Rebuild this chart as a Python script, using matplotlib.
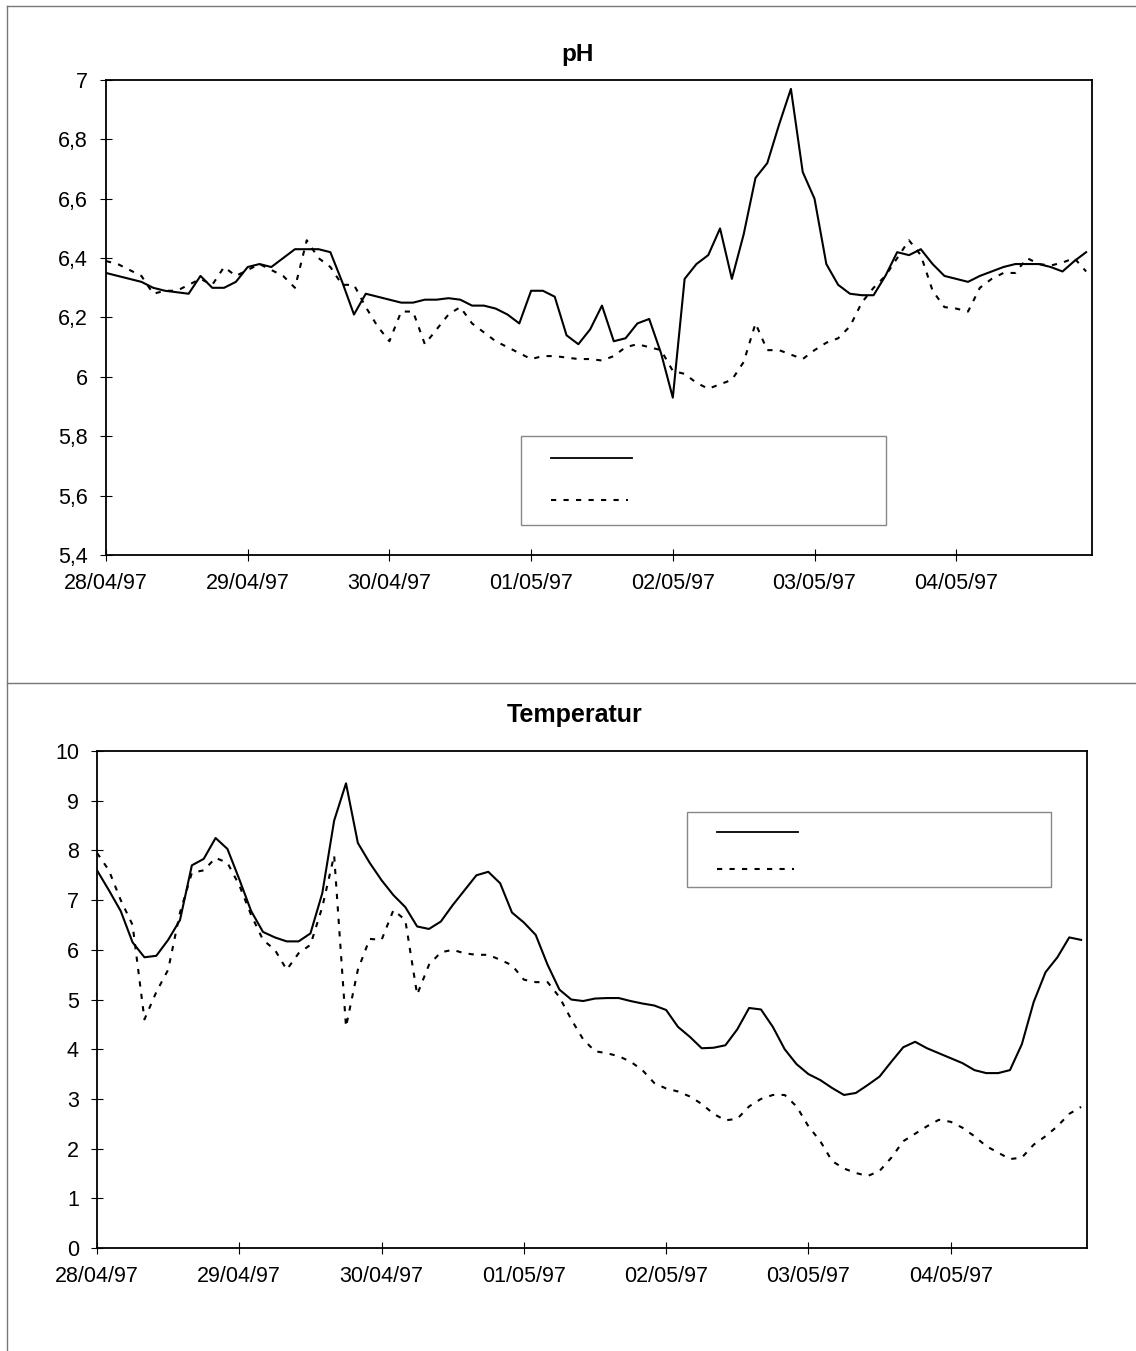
import numpy as np
import matplotlib
matplotlib.use('Agg')
import matplotlib.pyplot as plt
from matplotlib.patches import Rectangle
from matplotlib.lines import Line2D
from matplotlib.ticker import FuncFormatter

plt.rcParams['font.family'] = ['Liberation Sans', 'DejaVu Sans']

# Messzeitpunkte (Stunden ab 28/04/97 00:00), alle 2 Stunden
stunden = np.arange(0, 168, 2)
datum_labels = ['28/04/97', '29/04/97', '30/04/97', '01/05/97', '02/05/97', '03/05/97', '04/05/97']

# pH - durchgezogen
ph_a = [6.35, 6.34, 6.33, 6.32, 6.30, 6.29, 6.285, 6.28, 6.34, 6.30, 6.30, 6.32,
        6.37, 6.38, 6.37, 6.40, 6.43, 6.43, 6.43, 6.42, 6.32, 6.21, 6.28, 6.27,
        6.26, 6.25, 6.25, 6.26, 6.26, 6.265, 6.26, 6.24, 6.24, 6.23, 6.21, 6.18,
        6.29, 6.29, 6.27, 6.14, 6.11, 6.16, 6.24, 6.12, 6.13, 6.18, 6.195, 6.08,
        5.93, 6.33, 6.38, 6.41, 6.50, 6.33, 6.48, 6.67, 6.72, 6.85, 6.97, 6.69,
        6.60, 6.38, 6.31, 6.28, 6.275, 6.275, 6.34, 6.42, 6.41, 6.43, 6.38, 6.34,
        6.33, 6.32, 6.34, 6.355, 6.37, 6.38, 6.38, 6.38, 6.37, 6.355, 6.39, 6.42]
# pH - gestrichelt
ph_b = [6.39, 6.38, 6.36, 6.34, 6.28, 6.29, 6.29, 6.31, 6.33, 6.31, 6.37, 6.34,
        6.36, 6.38, 6.36, 6.34, 6.30, 6.46, 6.40, 6.37, 6.31, 6.31, 6.235, 6.17,
        6.12, 6.22, 6.22, 6.11, 6.16, 6.21, 6.235, 6.18, 6.15, 6.12, 6.10, 6.08,
        6.06, 6.07, 6.07, 6.065, 6.06, 6.06, 6.055, 6.07, 6.10, 6.11, 6.10, 6.09,
        6.02, 6.01, 5.98, 5.96, 5.975, 5.99, 6.05, 6.18, 6.09, 6.09, 6.075, 6.06,
        6.09, 6.115, 6.13, 6.17, 6.25, 6.30, 6.34, 6.40, 6.46, 6.41, 6.29, 6.235,
        6.23, 6.22, 6.30, 6.33, 6.35, 6.35, 6.40, 6.38, 6.375, 6.385, 6.40, 6.355]

# Temperatur - durchgezogen
temp_a = [7.6, 7.2, 6.78, 6.15, 5.85, 5.88, 6.20, 6.60, 7.70, 7.83, 8.25, 8.03,
          7.42, 6.78, 6.36, 6.25, 6.17, 6.17, 6.33, 7.14, 8.6, 9.35, 8.15, 7.75,
          7.40, 7.1, 6.86, 6.47, 6.42, 6.57, 6.90, 7.2, 7.5, 7.57, 7.34, 6.75,
          6.55, 6.30, 5.70, 5.20, 5.0, 4.97, 5.02, 5.03, 5.03, 4.97, 4.92, 4.88,
          4.79, 4.45, 4.25, 4.02, 4.03, 4.08, 4.4, 4.83, 4.8, 4.45, 4.0, 3.70,
          3.50, 3.38, 3.22, 3.08, 3.12, 3.28, 3.45, 3.75, 4.04, 4.15, 4.02, 3.92,
          3.82, 3.72, 3.58, 3.52, 3.52, 3.58, 4.1, 4.95, 5.55, 5.85, 6.25, 6.2]
# Temperatur - gestrichelt
temp_b = [7.95, 7.6, 7.0, 6.5, 4.6, 5.15, 5.6, 6.75, 7.55, 7.6, 7.85, 7.75,
          7.3, 6.7, 6.2, 6.0, 5.6, 5.93, 6.1, 6.86, 7.9, 4.45, 5.6, 6.22,
          6.2, 6.8, 6.6, 5.1, 5.7, 5.95, 6.0, 5.93, 5.9, 5.9, 5.80, 5.69,
          5.4, 5.35, 5.35, 5.05, 4.6, 4.2, 3.96, 3.92, 3.86, 3.75, 3.58, 3.32,
          3.21, 3.15, 3.05, 2.9, 2.7, 2.57, 2.6, 2.85, 3.0, 3.08, 3.08, 2.85,
          2.45, 2.15, 1.75, 1.6, 1.51, 1.45, 1.55, 1.82, 2.15, 2.3, 2.45, 2.58,
          2.54, 2.42, 2.25, 2.05, 1.92, 1.79, 1.82, 2.08, 2.25, 2.45, 2.7, 2.84]

komma = FuncFormatter(lambda v, p: ('%g' % round(v, 2)).replace('.', ','))
DASH = (0, (2.5, 3.5))


def diagramm(ax, ya, yb, ymin, ymax, ystep, legende):
    ax.plot(stunden, ya, color='black', lw=1.5)
    ax.plot(stunden, yb, color='black', lw=1.5, linestyle=DASH)
    ax.set_xlim(0, 167)
    ax.set_ylim(ymin, ymax)
    ax.set_yticks(np.arange(ymin, ymax + ystep / 2, ystep))
    ax.yaxis.set_major_formatter(komma)
    ax.set_xticks(np.arange(0, 168, 24))
    ax.set_xticklabels(datum_labels)
    ax.tick_params(direction='inout', length=8, width=0.8, labelsize=15.5, pad=9)
    for s in ax.spines.values():
        s.set_linewidth(1.3)
    # Legende ohne Text
    x0, x1, y0, y1, yl1, yl2 = legende
    ax.add_patch(Rectangle((x0, y0), x1 - x0, y1 - y0, transform=ax.transAxes,
                           fill=False, edgecolor='#888888', lw=1))
    ax.add_line(Line2D([x0 + 0.03, x0 + 0.112], [yl1, yl1], transform=ax.transAxes,
                       color='black', lw=1.3))
    ax.add_line(Line2D([x0 + 0.03, x0 + 0.108], [yl2, yl2], transform=ax.transAxes,
                       color='black', lw=1.5, linestyle=DASH))


fig = plt.figure(figsize=(11.36, 13.51), dpi=100)

ax1 = fig.add_axes([0.0933, 0.5892, 0.868, 0.3516])
diagramm(ax1, ph_a, ph_b, 5.4, 7.0, 0.2, (0.421, 0.791, 0.063, 0.25, 0.204, 0.116))
fig.text(0.508, 0.9593, 'pH', ha='center', va='center', fontsize=17.5, fontweight='bold')

ax2 = fig.add_axes([0.0854, 0.0762, 0.8715, 0.3679])
diagramm(ax2, temp_a, temp_b, 0, 10, 1, (0.596, 0.964, 0.726, 0.877, 0.837, 0.763))
fig.text(0.506, 0.4708, 'Temperatur', ha='center', va='center', fontsize=18, fontweight='bold')

# Rahmen der beiden Diagrammflächen
rahmen = dict(color='#777777', lw=1, transform=fig.transFigure)
fig.add_artist(Line2D([7 / 1136, 7 / 1136], [0, 1 - 6 / 1351], **rahmen))
fig.add_artist(Line2D([7 / 1136, 1], [1 - 6 / 1351, 1 - 6 / 1351], **rahmen))
fig.add_artist(Line2D([7 / 1136, 1], [1 - 683 / 1351, 1 - 683 / 1351], **rahmen))

fig.savefig('out.png', dpi=100)
